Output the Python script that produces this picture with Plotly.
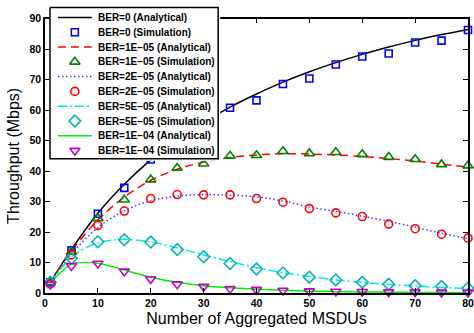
import plotly.graph_objects as go

# ---------------- data ----------------
x_pts = [1, 5, 10, 15, 20, 25, 30, 35, 40, 45, 50, 55, 60, 65, 70, 75, 80]

ana_ber0 = [3.5, 14.3, 26.2, 35.7, 43.7, 50.3, 56.0, 61.0, 65.3, 69.2, 72.6, 75.6, 78.3, 80.7, 82.9, 84.8, 86.5]
sim_ber0 = [3.5, 14.0, 26.0, 34.5, 43.8, 51.5, 56.5, 60.8, 63.2, 68.6, 70.4, 75.0, 77.6, 78.6, 82.2, 82.8, 86.3]

ana_ber1e5 = [3.5, 13.8, 24.0, 31.5, 37.0, 40.6, 43.0, 44.5, 45.3, 45.7, 45.6, 45.3, 44.8, 44.1, 43.3, 42.3, 41.3]
sim_ber1e5 = [3.5, 13.5, 24.5, 30.6, 37.2, 41.0, 42.4, 45.0, 45.2, 46.5, 45.8, 46.2, 45.5, 44.6, 43.9, 42.2, 41.8]

ana_ber2e5 = [3.4, 12.8, 21.5, 27.0, 30.3, 31.8, 32.3, 32.1, 31.6, 30.2, 28.2, 26.8, 25.2, 23.5, 21.6, 19.6, 17.8]
sim_ber2e5 = [3.0, 12.5, 22.2, 26.9, 31.0, 32.3, 32.2, 32.2, 31.0, 29.8, 27.7, 26.3, 25.1, 22.6, 21.1, 19.3, 18.0]

ana_ber5e5 = [3.3, 11.8, 16.5, 17.6, 16.8, 14.8, 12.5, 10.3, 8.3, 6.7, 5.4, 4.3, 3.5, 2.8, 2.3, 1.8, 1.5]
sim_ber5e5 = [3.5, 11.4, 16.8, 17.5, 16.7, 14.3, 11.9, 9.7, 7.9, 6.6, 5.2, 4.3, 3.5, 2.9, 2.4, 2.1, 1.6]

ana_ber1e4 = [3.3, 9.4, 9.8, 7.5, 5.2, 3.5, 2.4, 1.7, 1.2, 0.9, 0.6, 0.5, 0.35, 0.25, 0.2, 0.15, 0.1]
sim_ber1e4 = [2.8, 8.9, 9.7, 7.1, 4.6, 2.9, 2.1, 1.4, 1.1, 0.8, 0.6, 0.5, 0.4, 0.3, 0.3, 0.2, 0.2]

x_ticks = [0, 10, 20, 30, 40, 50, 60, 70, 80]
y_ticks = [0, 10, 20, 30, 40, 50, 60, 70, 80, 90]

names = [
    "BER=0 (Analytical)", "BER=0 (Simulation)",
    "BER=1E\u221205 (Analytical)", "BER=1E\u221205 (Simulation)",
    "BER=2E\u221205 (Analytical)", "BER=2E\u221205 (Simulation)",
    "BER=5E\u221205 (Analytical)", "BER=5E\u221205 (Simulation)",
    "BER=1E\u221204 (Analytical)", "BER=1E\u221204 (Simulation)",
]

# ---------------- styles ----------------
line_styles = [
    dict(color="black", width=1.5, dash="solid"),
    dict(color="#ff0000", width=1.5, dash="8px,5px"),
    dict(color="#3a3aff", width=1.5, dash="1.5px,2.5px"),
    dict(color="#00e5e5", width=1.5, dash="9px,3px,2px,3px"),
    dict(color="#00ee00", width=1.5, dash="solid"),
]
marker_styles = [
    dict(symbol="square-open", size=7, color="#0000ff"),
    dict(symbol="triangle-up-open", size=9, color="#008000"),
    dict(symbol="circle-open", size=8, color="#ff0000"),
    dict(symbol="diamond-open", size=9, color="#00b5b5"),
    dict(symbol="triangle-down-open", size=9, color="#c800c8"),
]

ana_series = [ana_ber0, ana_ber1e5, ana_ber2e5, ana_ber5e5, ana_ber1e4]
sim_series = [sim_ber0, sim_ber1e5, sim_ber2e5, sim_ber5e5, sim_ber1e4]

fig = go.Figure()

for i in range(5):
    ls = line_styles[i]
    fig.add_trace(go.Scatter(
        x=x_pts, y=ana_series[i], mode="lines", name=names[2 * i],
        line=dict(color=ls["color"], width=ls["width"], dash=ls["dash"], shape="spline", smoothing=0.8),
        showlegend=False, hoverinfo="skip"))
for i in range(5):
    ms = marker_styles[i]
    fig.add_trace(go.Scatter(
        x=x_pts, y=sim_series[i], mode="markers", name=names[2 * i + 1],
        marker=dict(symbol=ms["symbol"], size=ms["size"], color=ms["color"],
                    line=dict(color=ms["color"], width=1.6)),
        cliponaxis=False, showlegend=False, hoverinfo="skip"))

# ---------------- legend drawn in its own pixel-scaled subplot ----------------
W, H = 474, 333
ML, MR, MT, MB = 45, 4, 0, 40
pw = W - ML - MR          # 425
ph = H - MT - MB          # 293
lx0, lx1 = 49, 221        # legend subplot extent in px
ly0, ly1 = 0, 158

fig.add_trace(go.Scatter(
    x=[50, 219, 219, 50, 50], y=[1.5, 1.5, 156, 156, 1.5],
    mode="lines", fill="toself", fillcolor="white",
    line=dict(color="black", width=1.5),
    xaxis="x2", yaxis="y2", showlegend=False, hoverinfo="skip"))

row_y0, row_dy = 11.7, 15.1
annotations = []
for k in range(10):
    yc = row_y0 + row_dy * k
    grp = k // 2
    if k % 2 == 0:
        ls = line_styles[grp]
        fig.add_trace(go.Scatter(
            x=[58, 92], y=[yc, yc], mode="lines",
            line=dict(color=ls["color"], width=ls["width"], dash=ls["dash"]),
            xaxis="x2", yaxis="y2", showlegend=False, hoverinfo="skip"))
    else:
        ms = marker_styles[grp]
        fig.add_trace(go.Scatter(
            x=[75], y=[yc], mode="markers",
            marker=dict(symbol=ms["symbol"], size=ms["size"], color=ms["color"],
                        line=dict(color=ms["color"], width=1.6)),
            xaxis="x2", yaxis="y2", showlegend=False, hoverinfo="skip"))
    annotations.append(dict(
        x=96, y=yc, xref="x2", yref="y2", text=names[k], showarrow=False,
        xanchor="left", yanchor="middle",
        font=dict(family="Liberation Sans", size=10, color="black", weight="bold")))

axis_common = dict(
    showline=True, linewidth=1.5, linecolor="black", mirror="ticks",
    ticks="inside", ticklen=5, tickwidth=1, tickcolor="black",
    showgrid=False, zeroline=False, ticklabeloverflow="allow",
    tickfont=dict(family="Liberation Sans", size=10.5, color="black", weight="bold"),
)

fig.update_layout(
    width=W, height=H,
    margin=dict(l=ML, r=MR, t=MT, b=MB),
    paper_bgcolor="white", plot_bgcolor="white",
    showlegend=False,
    xaxis=dict(range=[0, 80], tickvals=x_ticks, domain=[0, 1],
               title=dict(text="Number of Aggregated MSDUs", standoff=4,
                          font=dict(family="Liberation Sans", size=16, color="black")),
               **axis_common),
    yaxis=dict(range=[0, 90], tickvals=y_ticks, domain=[0, 280 / ph],
               title=dict(text="Throughput (Mbps)", standoff=6,
                          font=dict(family="Liberation Sans", size=16, color="black")),
               **axis_common),
    xaxis2=dict(domain=[(lx0 - ML) / pw, (lx1 - ML) / pw], range=[lx0, lx1],
                visible=False, anchor="y2", fixedrange=True),
    yaxis2=dict(domain=[(ph - ly1) / ph, 1], range=[ly1, ly0],
                visible=False, anchor="x2", fixedrange=True),
    annotations=annotations,
)

fig.write_html("out.html")
